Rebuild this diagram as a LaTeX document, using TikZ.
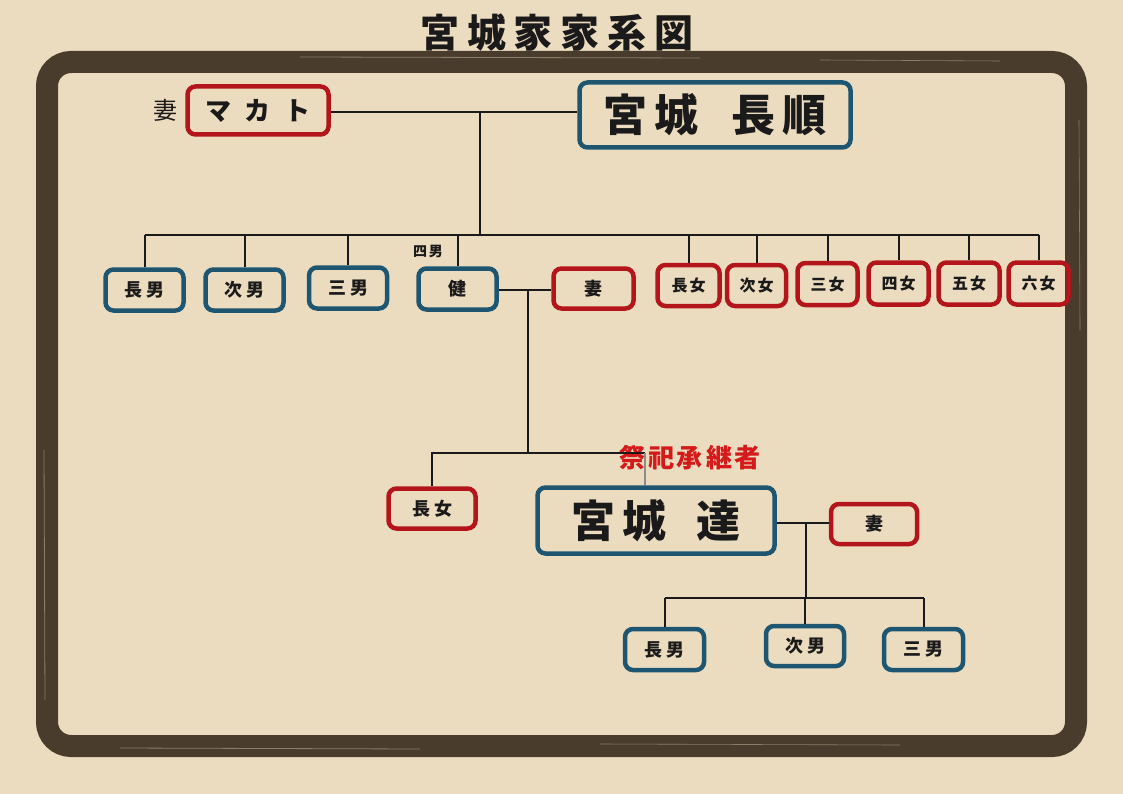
\documentclass[tikz,border=0pt]{standalone}
\usepackage{fontspec}
\newfontfamily\jp{Noto Sans CJK JP}
\definecolor{paper}{HTML}{ECDCBF}
\definecolor{framec}{HTML}{4A3C2C}
\definecolor{boxblue}{HTML}{1E5570}
\definecolor{boxred}{HTML}{B3151B}
\definecolor{ink}{HTML}{1A1A1A}
\definecolor{redtext}{HTML}{D41A1A}
\begin{document}
\begin{tikzpicture}[x=1pt,y=-1pt,
  conn/.style={line width=2pt,draw=ink},
  bbox/.style={draw=boxblue,line width=4.5pt,rounded corners=8pt,inner sep=0pt,
     font=\jp\bfseries\fontsize{18}{18}\selectfont,text=ink},
  rbox/.style={bbox,draw=boxred},
  smallf/.style={font=\jp\bfseries\fontsize{16}{16}\selectfont},
  bigf/.style={font=\jp\bfseries\fontsize{44}{44}\selectfont}]
\useasboundingbox (0,0) rectangle (1123,794);
\fill[paper] (0,0) rectangle (1123,794);
% brush frame
\draw[framec,line width=22pt,rounded corners=24pt] (47,62) rectangle (1076,746);
\draw[framec!60!paper,line width=0.8pt] (300,57) -- (700,58);
\draw[framec!60!paper,line width=0.6pt] (820,60) -- (1000,61);
\draw[framec!60!paper,line width=0.8pt] (120,748) -- (420,749);
\draw[framec!60!paper,line width=0.6pt] (600,744) -- (900,745);
\draw[framec!60!paper,line width=0.8pt] (44,450) -- (45,700);
\draw[framec!60!paper,line width=0.6pt] (1079,120) -- (1080,330);
% title
\node[font=\jp\bfseries\fontsize{39}{39}\selectfont,text=ink] (title) at (557,33)
  {宮\hspace{8pt}城\hspace{8pt}家\hspace{8pt}家\hspace{8pt}系\hspace{8pt}図};
% generation 1
\node[font=\jp\fontsize{24}{24}\selectfont,text=ink] (tsumalabel) at (165,110) {妻};
\node[rbox,minimum width=141pt,minimum height=48pt,font=\jp\bfseries\fontsize{26}{26}\selectfont] (makato) at (258,110.5) {マ\hspace{14pt}カ\hspace{14pt}ト};
\node[bbox,minimum width=271pt,minimum height=65pt,bigf] (nagayori) at (715,115) {宮\hspace{7pt}城\hspace{33pt}長\hspace{7pt}順};
\coordinate (top) at (480,112);
\coordinate (bar) at (480,235);
% generation 2
\node[bbox,minimum width=78pt,minimum height=41pt] (c1) at (144.5,290) {長\hspace{4pt}男};
\node[bbox,minimum width=78pt,minimum height=41pt] (c2) at (244.5,290) {次\hspace{4pt}男};
\node[bbox,minimum width=78pt,minimum height=41pt] (c3) at (348,288) {三\hspace{4pt}男};
\node[bbox,minimum width=78pt,minimum height=41pt] (c4) at (457.5,289) {健};
\node[font=\jp\bfseries\fontsize{14}{14}\selectfont,text=ink] (yonnan) at (428,252) {四\hspace{2pt}男};
\node[rbox,minimum width=80pt,minimum height=40pt] (w4) at (593.5,288.5) {妻};
\node[rbox,smallf,minimum width=62pt,minimum height=41pt] (d1) at (688.5,285.5) {長\hspace{2pt}女};
\node[rbox,smallf,minimum width=59pt,minimum height=41pt] (d2) at (756.5,285.5) {次\hspace{2pt}女};
\node[rbox,smallf,minimum width=60pt,minimum height=42pt] (d3) at (827.5,284) {三\hspace{2pt}女};
\node[rbox,smallf,minimum width=60pt,minimum height=42pt] (d4) at (898.5,283.5) {四\hspace{2pt}女};
\node[rbox,smallf,minimum width=61pt,minimum height=42pt] (d5) at (969,283.5) {五\hspace{2pt}女};
\node[rbox,smallf,minimum width=60pt,minimum height=42pt] (d6) at (1038.5,283.5) {六\hspace{2pt}女};
\coordinate (m2) at (528,290);
\coordinate (bar2) at (528,453);
\coordinate (td) at (645,453);
% generation 3
\node[rbox,minimum width=87pt,minimum height=40pt] (g1) at (432,508.5) {長\hspace{4pt}女};
\node[bbox,minimum width=237pt,minimum height=66pt,bigf] (tatsu) at (656,520.5) {宮\hspace{7pt}城\hspace{30pt}達};
\node[font=\jp\bfseries\fontsize{26}{26}\selectfont,text=redtext] (saishi) at (690,458) {祭\hspace{3pt}祀\hspace{3pt}承\hspace{3pt}継\hspace{3pt}者};
\node[rbox,minimum width=86pt,minimum height=40pt] (w5) at (874,524) {妻};
\coordinate (m3) at (806,523);
\coordinate (bar3) at (806,598);
% generation 4
\node[bbox,minimum width=79pt,minimum height=41pt] (k1) at (664.5,649.5) {長\hspace{4pt}男};
\node[bbox,minimum width=78pt,minimum height=40pt] (k2) at (805,646) {次\hspace{4pt}男};
\node[bbox,minimum width=79pt,minimum height=41pt] (k3) at (923.5,649.5) {三\hspace{4pt}男};
% connectors
\draw[conn] (makato.east |- top) -- (nagayori.west |- top);
\draw[conn] (top) -- (bar);
\draw[conn] (c1.north |- bar) -- (d6.north |- bar);
\foreach \n in {c1,c2,c3,c4,d1,d2,d3,d4,d5,d6}{
  \draw[conn] (\n.north) -- (\n.north |- bar);
}
\draw[conn] (c4.east |- m2) -- (w4.west |- m2);
\draw[conn] (m2) -- (bar2);
\draw[conn] (bar2) -- (g1.north |- bar2) -- (g1.north);
\draw[conn] (bar2) -- (td);
\draw[line width=2pt,draw=black!45] (td) -- (td |- tatsu.north);
\draw[conn] (tatsu.east |- m3) -- (w5.west |- m3);
\draw[conn] (m3) -- (bar3);
\draw[conn] (k1.north |- bar3) -- (k3.north |- bar3);
\foreach \n in {k1,k2,k3}{
  \draw[conn] (\n.north) -- (\n.north |- bar3);
}
\end{tikzpicture}
\end{document}
